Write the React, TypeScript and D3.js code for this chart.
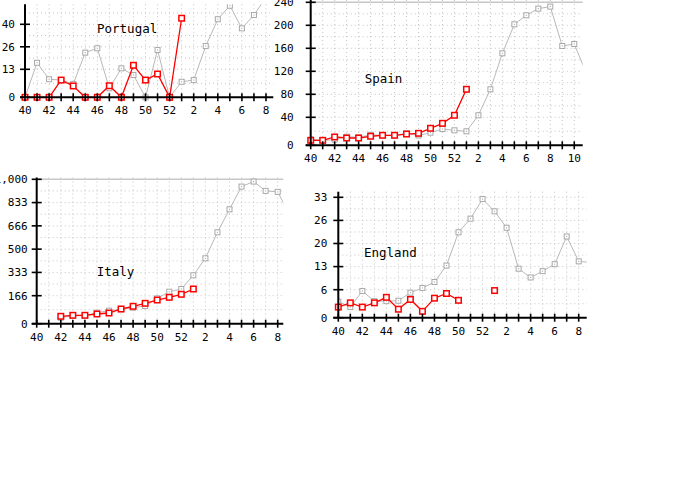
import React from 'react';
import * as d3 from 'd3';

// weeks 40..52 of one year, then 1..11 of the next
const weeks = [40, 41, 42, 43, 44, 45, 46, 47, 48, 49, 50, 51, 52, 1, 2, 3, 4, 5, 6, 7, 8, 9, 10, 11];

const portugalPrev = [0, 17.2, 8.6, 8.2, 6.3, 23.2, 25.8, 4.3, 13.9, 10.6, 0, 24.8, 0, 7.4, 8.2, 27.1, 43, 51, 37.6, 45.5, 56];
const portugalCur = [0, 0, 0, 8.2, 5.4, 0, 0, 5.5, 0, 15.7, 8.2, 11.1, 0, 43.6];

const spainPrev = [8.6, 7.1, 8, 12.3, 11.4, 15, 14.3, 14.3, 17, 14, 18, 23.3, 21.4, 20, 43.5, 88.7, 151.3, 201.7, 217.4, 229, 232.5, 164, 167.5, 117];
const spainCur = [7.1, 7.1, 11.9, 10.4, 10.4, 12.9, 14.3, 14.3, 16.1, 17.1, 24.3, 31.4, 43.5, 88.7];

const italyPrev = [null, null, 35.7, 47.6, 47.6, 65.5, 77.4, 85.7, 95.2, 105.4, 151, 195.3, 214.6, 312.7, 434.4, 620.5, 785, 947.9, 983.7, 917, 910, 745];
const italyCur = [null, null, 44, 50, 50, 57.7, 63.7, 87.5, 103.6, 121.4, 141, 157, 176.7, 214.6];

const englandPrev = [3.8, 2.5, 6.3, 3.9, 3.9, 4, 5.9, 7.1, 8.8, 13.5, 23, 26.9, 32.5, 29, 24.3, 12.6, 10.1, 11.9, 13.9, 21.8, 14.7, 14.4];
const englandCur = [2.5, 3.5, 2.5, 3.5, 4.8, 2, 4.3, 1.5, 4.6, 5.7, 4.1, null, null, 6.4];

const portugalTicks = [0, 13.33, 26.67, 40];
const portugalTickLabels = ['0', '13', '26', '40'];
const spainTicks = [0, 40, 80, 120, 160, 200, 240];
const spainTickLabels = ['0', '40', '80', '120', '160', '200', '240'];
const italyTicks = [0, 166.67, 333.33, 500, 666.67, 833.33, 1000];
const italyTickLabels = ['0', '166', '333', '500', '666', '833', '1,000'];
const englandTicks = [0, 6.6, 13.2, 19.8, 26.4, 33];
const englandTickLabels = ['0', '6', '13', '20', '26', '33'];

type Val = number | null;

interface PanelProps {
  id: string;
  title: string;
  prev: Val[];
  cur: Val[];
  ticks: number[];
  tickLabels: string[];
  x0: number;
  step: number;
  right: number;
  bottom: number;
  firstTickY: number;
  maxTickY: number;
  top: number;
  labelGap: number;
  titleX: number;
  titleY: number;
  solidTop: boolean;
}

const mono = '"DejaVu Sans Mono", monospace';

const Panel: React.FC<PanelProps> = (p) => {
  const n = weeks.length;
  const x = d3.scaleLinear().domain([0, n - 1]).range([p.x0, p.x0 + (n - 1) * p.step]);
  const maxTick = p.ticks[p.ticks.length - 1];
  // the chart puts its first tick a little further from the axis than the others
  const y = d3.scaleLinear()
    .domain([0, p.ticks[1], maxTick])
    .range([p.bottom, p.firstTickY, p.maxTickY]);

  const idx = d3.range(n).filter(i => x(i) <= p.right + 0.5);

  // horizontal dotted grid: ticks and half ticks
  const half = (p.ticks[2] - p.ticks[1]) / 2;
  const gridVals: number[] = [];
  for (let v = p.ticks[1] / 2; y(v) >= p.top; v += v < p.ticks[1] ? p.ticks[1] / 2 : half) {
    gridVals.push(v);
  }

  const line = d3.line<Val>()
    .defined(d => d != null)
    .x((_, i) => x(i))
    .y(d => y(d as number));

  const clipId = `clip-${p.id}`;

  return (
    <g>
      <defs>
        <clipPath id={clipId}>
          <rect x={p.x0} y={p.top} width={p.right - p.x0} height={p.bottom - p.top + 8} />
        </clipPath>
      </defs>
      {/* grid */}
      {idx.filter(i => i > 0).map(i => (
        <line key={`gx${i}`} x1={x(i)} x2={x(i)} y1={p.top} y2={p.bottom}
          stroke="#c4c4c4" strokeDasharray="1,3" />
      ))}
      {gridVals.map(v => (
        <line key={`gy${v}`} x1={p.x0} x2={p.right} y1={y(v)} y2={y(v)}
          stroke="#c4c4c4" strokeDasharray="1,3" />
      ))}
      {p.solidTop && (
        <line x1={p.x0} x2={p.right} y1={y(maxTick)} y2={y(maxTick)} stroke="#c8c8c8" strokeWidth={1.5} />
      )}

      {/* previous season */}
      <g clipPath={`url(#${clipId})`}>
        <path d={line(p.prev) || ''} fill="none" stroke="#b8b8b8" strokeWidth={1} />
        {p.prev.map((d, i) => d == null ? null : (
          <g key={`pm${i}`}>
            <rect x={x(i) - 2.5} y={y(d) - 2.5} width={5} height={5} fill="#fff" stroke="#a8a8a8" strokeWidth={1} />
            <rect x={x(i) - 0.5} y={y(d) - 0.5} width={1} height={1} fill="#999" />
          </g>
        ))}
      </g>

      {/* current season */}
      <path d={line(p.cur) || ''} fill="none" stroke="#ff0000" strokeWidth={1.3} />
      {p.cur.map((d, i) => d == null ? null : (
        <rect key={`cm${i}`} x={x(i) - 2.75} y={y(d) - 2.75} width={5.5} height={5.5}
          fill="#fff" stroke="#ff0000" strokeWidth={1.5} />
      ))}

      {/* axes */}
      <line x1={p.x0} x2={p.x0} y1={p.top} y2={p.bottom} stroke="#000" strokeWidth={2} />
      <line x1={p.x0 - 5} x2={p.right} y1={p.bottom} y2={p.bottom} stroke="#000" strokeWidth={2} />
      {idx.map(i => (
        <line key={`tx${i}`} x1={x(i)} x2={x(i)} y1={p.bottom - 4} y2={p.bottom + 4} stroke="#000" strokeWidth={1.6} />
      ))}
      {idx.filter(i => i % 2 === 0).map(i => (
        <text key={`lx${i}`} x={x(i)} y={p.bottom + 17} textAnchor="middle"
          fontFamily={mono} fontSize={11} fill="#000">{weeks[i]}</text>
      ))}
      {p.ticks.map((t, k) => (
        <g key={`ty${k}`}>
          <line x1={p.x0 - 5} x2={p.x0 + 5} y1={y(t)} y2={y(t)} stroke="#000" strokeWidth={1.6} />
          <text x={p.x0 - p.labelGap} y={y(t)} dy="0.35em" textAnchor="end"
            fontFamily={mono} fontSize={11} fill="#000">{p.tickLabels[k]}</text>
        </g>
      ))}

      <text x={p.titleX} y={p.titleY} fontFamily={mono} fontSize={12.5} fill="#000">{p.title}</text>
    </g>
  );
};

export default function App() {
  return (
    <svg width={700} height={500} style={{ position: 'absolute', left: 0, top: 0, background: '#fff' }}>
      <Panel id="pt" title="Portugal" prev={portugalPrev} cur={portugalCur}
        ticks={portugalTicks} tickLabels={portugalTickLabels}
        x0={25} step={12.05} right={273.3} bottom={97.3} firstTickY={69.3} maxTickY={24.3}
        top={4.3} labelGap={10} titleX={97} titleY={32.5} solidTop={false} />
      <Panel id="es" title="Spain" prev={spainPrev} cur={spainCur}
        ticks={spainTicks} tickLabels={spainTickLabels}
        x0={310.7} step={11.98} right={582.7} bottom={145.3} firstTickY={117.3} maxTickY={2.3}
        top={-4} labelGap={17} titleX={364.7} titleY={82.7} solidTop={true} />
      <Panel id="it" title="Italy" prev={italyPrev} cur={italyCur}
        ticks={italyTicks} tickLabels={italyTickLabels}
        x0={36.7} step={12.05} right={283.3} bottom={323.7} firstTickY={295.7} maxTickY={179.3}
        top={177.5} labelGap={9} titleX={96.7} titleY={276} solidTop={true} />
      <Panel id="en" title="England" prev={englandPrev} cur={englandCur}
        ticks={englandTicks} tickLabels={englandTickLabels}
        x0={338.3} step={12.02} right={586.7} bottom={317.7} firstTickY={289.7} maxTickY={197.3}
        top={191.7} labelGap={11} titleX={364} titleY={257.3} solidTop={false} />
    </svg>
  );
}
